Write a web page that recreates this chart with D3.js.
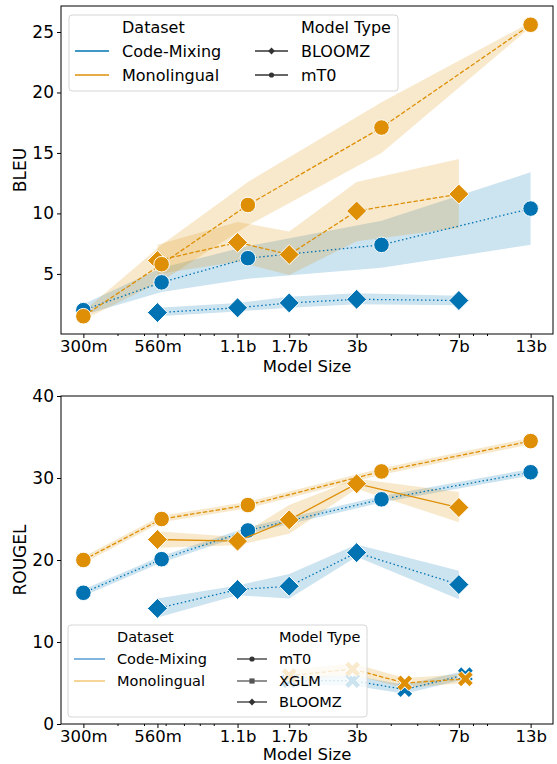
<!DOCTYPE html>
<html>
<head>
<meta charset="utf-8">
<script src="https://cdn.jsdelivr.net/npm/d3@7"></script>
<style>
  body { margin: 0; background: #fff; }
  text { font-family: "DejaVu Sans", sans-serif; fill: #000; }
</style>
</head>
<body>
<svg id="chart" width="557" height="764"></svg>
<script>
// model sizes (billions of parameters)
var bloomzSizes = [0.56, 1.1, 1.7, 3, 7.1];
var mt0Sizes = [0.3, 0.58, 1.2, 3.7, 13];
var xglmSizes = [1.7, 2.9, 4.5, 7.5];

var tickVals = [0.3, 0.56, 1.1, 1.7, 3, 7.1, 13];
var tickLabels = ["300m", "560m", "1.1b", "1.7b", "3b", "7b", "13b"];
var minorVals = [0.4, 0.5, 0.6, 0.7, 0.8, 0.9, 2, 4, 5, 6, 8, 9];

// BLEU (mean, lower, upper)
var bleuBloomzCM = [1.8, 2.2, 2.6, 2.9, 2.8];
var bleuBloomzCMLo = [1.5, 1.9, 2.2, 2.5, 2.4];
var bleuBloomzCMHi = [2.2, 2.6, 3.1, 3.4, 3.2];
var bleuBloomzMono = [6.1, 7.6, 6.6, 10.2, 11.6];
var bleuBloomzMonoLo = [5.0, 6.0, 4.9, 7.7, 8.8];
var bleuBloomzMonoHi = [7.4, 9.3, 8.5, 12.6, 14.5];
var bleuMt0CM = [2.0, 4.3, 6.3, 7.4, 10.4];
var bleuMt0CMLo = [1.6, 3.5, 4.6, 5.5, 7.4];
var bleuMt0CMHi = [2.5, 5.5, 7.3, 9.4, 13.4];
var bleuMt0Mono = [1.5, 5.8, 10.7, 17.1, 25.6];
var bleuMt0MonoLo = [1.2, 4.4, 9.0, 15.0, 25.4];
var bleuMt0MonoHi = [1.9, 7.4, 12.6, 19.2, 25.8];

// ROUGE-L (mean, lower, upper)
var rougeBloomzCM = [14.1, 16.4, 16.8, 20.9, 17.0];
var rougeBloomzCMLo = [13.0, 15.7, 15.3, 20.4, 15.2];
var rougeBloomzCMHi = [15.3, 16.9, 18.3, 21.9, 18.7];
var rougeBloomzMono = [22.5, 22.3, 24.9, 29.3, 26.4];
var rougeBloomzMonoLo = [21.5, 21.8, 23.2, 28.7, 24.6];
var rougeBloomzMonoHi = [23.5, 22.8, 26.7, 29.9, 28.3];
var rougeMt0CM = [16.0, 20.1, 23.6, 27.4, 30.7];
var rougeMt0CMLo = [15.6, 19.7, 23.2, 27.0, 30.3];
var rougeMt0CMHi = [16.4, 20.5, 24.0, 27.8, 31.1];
var rougeMt0Mono = [20.0, 25.0, 26.7, 30.8, 34.5];
var rougeMt0MonoLo = [19.6, 24.6, 26.3, 30.4, 34.1];
var rougeMt0MonoHi = [20.4, 25.4, 27.1, 31.2, 34.9];
var rougeXglmCM = [5.3, 5.3, 4.2, 6.0];
var rougeXglmCMLo = [4.8, 4.7, 3.7, 5.5];
var rougeXglmCMHi = [5.8, 5.9, 4.8, 6.5];
var rougeXglmMono = [5.9, 6.7, 5.0, 5.5];
var rougeXglmMonoLo = [5.3, 6.0, 4.4, 5.0];
var rougeXglmMonoHi = [6.6, 7.4, 5.6, 6.1];

var BLUE = "#0173b2", ORANGE = "#de8f05";
var svg = d3.select("#chart");

var pad = Math.pow(10, 0.0819);
var x = d3.scaleLog().domain([0.3 / pad, 13 * pad]).range([61, 553]);

function marker(g, type, color, px, py) {
  if (type == "circle") {
    g.append("circle").attr("cx", px).attr("cy", py).attr("r", 7.8)
      .attr("fill", color).attr("stroke", "#fff").attr("stroke-width", 1);
  } else if (type == "diamond") {
    g.append("path").attr("transform", "translate(" + px + "," + py + ")")
      .attr("d", "M0,-10L10,0L0,10L-10,0Z")
      .attr("fill", color).attr("stroke", "#fff").attr("stroke-width", 1);
  } else {
    var d = "M-5.8,-5.8L5.8,5.8M-5.8,5.8L5.8,-5.8";
    g.append("path").attr("transform", "translate(" + px + "," + py + ")")
      .attr("d", d).attr("stroke", "#fff").attr("stroke-width", 6.5).attr("fill", "none");
    g.append("path").attr("transform", "translate(" + px + "," + py + ")")
      .attr("d", d).attr("stroke", color).attr("stroke-width", 4.6).attr("fill", "none");
  }
}

function drawPanel(top, bottom, yDomain, yTicks, yLabel, labelGap, series) {
  var y = d3.scaleLinear().domain(yDomain).range([bottom, top]);
  var g = svg.append("g");

  // bands first
  series.forEach(function(s) {
    var pts = s.sizes.map(function(v, i) { return [v, s.mean[i], s.lo[i], s.hi[i]]; });
    g.append("path").datum(pts)
      .attr("d", d3.area().x(function(d) { return x(d[0]); })
        .y0(function(d) { return y(d[2]); }).y1(function(d) { return y(d[3]); }))
      .attr("fill", s.color).attr("fill-opacity", 0.2);
  });
  series.forEach(function(s) {
    var pts = s.sizes.map(function(v, i) { return [v, s.mean[i]]; });
    g.append("path").datum(pts)
      .attr("d", d3.line().x(function(d) { return x(d[0]); }).y(function(d) { return y(d[1]); }))
      .attr("fill", "none").attr("stroke", s.color).attr("stroke-width", 1.3)
      .attr("stroke-dasharray", s.dash);
    pts.forEach(function(p) { marker(g, s.marker, s.color, x(p[0]), y(p[1])); });
  });

  // frame
  g.append("rect").attr("x", 61).attr("y", top).attr("width", 492).attr("height", bottom - top)
    .attr("fill", "none").attr("stroke", "#000").attr("stroke-width", 1);

  // x axis
  var xa = g.append("g").attr("transform", "translate(0," + bottom + ")")
    .call(d3.axisBottom(x).tickValues(tickVals).tickSize(4).tickPadding(2)
      .tickFormat(function(d, i) { return tickLabels[i]; }));
  xa.select(".domain").remove();
  xa.selectAll("text").style("font-size", "16.5px");
  var xm = g.append("g").attr("transform", "translate(0," + bottom + ")")
    .call(d3.axisBottom(x).tickValues(minorVals).tickSize(2).tickFormat(""));
  xm.select(".domain").remove();
  g.append("text").attr("x", 307).attr("y", bottom + labelGap).attr("text-anchor", "middle")
    .style("font-size", "16.5px").text("Model Size");

  // y axis
  var ya = g.append("g").attr("transform", "translate(61,0)")
    .call(d3.axisLeft(y).tickValues(yTicks).tickSize(4).tickPadding(3));
  ya.select(".domain").remove();
  ya.selectAll("text").style("font-size", "17px");
  g.append("text").attr("transform", "translate(26," + ((top + bottom) / 2) + ") rotate(-90)")
    .attr("text-anchor", "middle").style("font-size", "17px").text(yLabel);
  return g;
}

function legend(g, box, fs, rowsY, col1, col2, datasetColors, types) {
  g.append("rect").attr("x", box[0]).attr("y", box[1]).attr("width", box[2]).attr("height", box[3])
    .attr("rx", 3).attr("fill", "#fff").attr("fill-opacity", 0.8)
    .attr("stroke", "#d6d6d6").attr("stroke-width", 1);
  function label(tx, ty, t) {
    g.append("text").attr("x", tx).attr("y", ty).attr("dy", "0.36em")
      .style("font-size", fs + "px").text(t);
  }
  label(col1[2], rowsY[0], "Dataset");
  ["Code-Mixing", "Monolingual"].forEach(function(name, i) {
    g.append("line").attr("x1", col1[0]).attr("x2", col1[1]).attr("y1", rowsY[i + 1]).attr("y2", rowsY[i + 1])
      .attr("stroke", datasetColors[i]).attr("stroke-width", 1.3);
    label(col1[2], rowsY[i + 1], name);
  });
  label(col2[2], rowsY[0], "Model Type");
  types.forEach(function(t, i) {
    var yy = rowsY[i + 1], cx = (col2[0] + col2[1]) / 2;
    g.append("line").attr("x1", col2[0]).attr("x2", col2[1]).attr("y1", yy).attr("y2", yy)
      .attr("stroke", t[2]).attr("stroke-width", 1.3);
    if (t[1] == "circle") g.append("circle").attr("cx", cx).attr("cy", yy).attr("r", 2.6).attr("fill", t[2]);
    else if (t[1] == "diamond") g.append("path").attr("transform", "translate(" + cx + "," + yy + ")")
      .attr("d", "M0,-3.4L3.4,0L0,3.4L-3.4,0Z").attr("fill", t[2]);
    else g.append("rect").attr("x", cx - 2.6).attr("y", yy - 2.6).attr("width", 5.2).attr("height", 5.2).attr("fill", t[2]);
    label(col2[2], yy, t[0]);
  });
}

// top panel: BLEU
var g1 = drawPanel(6, 334, [0.03, 27.15], [5, 10, 15, 20, 25], "BLEU", 38, [
  { sizes: bloomzSizes, mean: bleuBloomzCM, lo: bleuBloomzCMLo, hi: bleuBloomzCMHi, color: BLUE, dash: "1.5,2.5", marker: "diamond" },
  { sizes: mt0Sizes, mean: bleuMt0CM, lo: bleuMt0CMLo, hi: bleuMt0CMHi, color: BLUE, dash: "1.5,2.5", marker: "circle" },
  { sizes: bloomzSizes, mean: bleuBloomzMono, lo: bleuBloomzMonoLo, hi: bleuBloomzMonoHi, color: ORANGE, dash: "4.5,2", marker: "diamond" },
  { sizes: mt0Sizes, mean: bleuMt0Mono, lo: bleuMt0MonoLo, hi: bleuMt0MonoHi, color: ORANGE, dash: "4.5,2", marker: "circle" }
]);
legend(g1, [69, 15, 329, 76], 16, [27, 51, 75], [75, 109, 122], [255, 288, 301],
  [BLUE, ORANGE], [["BLOOMZ", "diamond", "#333"], ["mT0", "circle", "#333"]]);

// bottom panel: ROUGE-L
var g2 = drawPanel(396, 724, [0, 40], [0, 10, 20, 30, 40], "ROUGEL", 35.5, [
  { sizes: bloomzSizes, mean: rougeBloomzCM, lo: rougeBloomzCMLo, hi: rougeBloomzCMHi, color: BLUE, dash: "1.5,2.5", marker: "diamond" },
  { sizes: mt0Sizes, mean: rougeMt0CM, lo: rougeMt0CMLo, hi: rougeMt0CMHi, color: BLUE, dash: "1.5,2.5", marker: "circle" },
  { sizes: xglmSizes, mean: rougeXglmCM, lo: rougeXglmCMLo, hi: rougeXglmCMHi, color: BLUE, dash: "1.5,2.5", marker: "x" },
  { sizes: bloomzSizes, mean: rougeBloomzMono, lo: rougeBloomzMonoLo, hi: rougeBloomzMonoHi, color: ORANGE, dash: null, marker: "diamond" },
  { sizes: mt0Sizes, mean: rougeMt0Mono, lo: rougeMt0MonoLo, hi: rougeMt0MonoHi, color: ORANGE, dash: "4.5,2", marker: "circle" },
  { sizes: xglmSizes, mean: rougeXglmMono, lo: rougeXglmMonoLo, hi: rougeXglmMonoHi, color: ORANGE, dash: "4.5,2", marker: "x" }
]);
legend(g2, [68, 625, 299, 92], 14.5, [637, 659, 681, 702], [74, 105, 117], [237, 267, 279],
  ["#3a8dcc", "#f2bf62"], [["mT0", "circle", "#333"], ["XGLM", "square", "#555"], ["BLOOMZ", "diamond", "#333"]]);
</script>
</body>
</html>
